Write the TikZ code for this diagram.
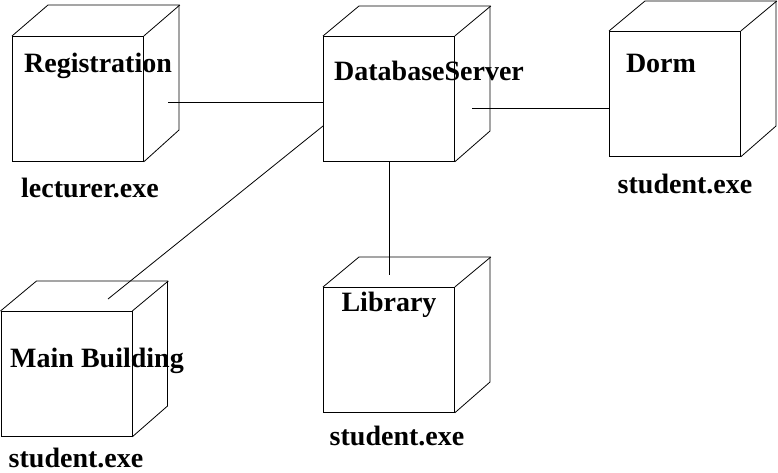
\documentclass[tikz,border=0pt]{standalone}
\usepackage{fontspec}
\setmainfont{Liberation Serif}
\usetikzlibrary{calc}

\tikzset{
  nodebox/.style={draw, rectangle, minimum width=131pt, minimum height=125pt,
    anchor=north west, inner sep=0pt},
  boxname/.style={font=\fontsize{28}{32}\selectfont\bfseries, anchor=base, inner sep=0pt},
}

\begin{document}
\begin{tikzpicture}[x=1pt,y=-1pt,line width=0.8pt]
            \useasboundingbox (0,0) rectangle (778,472);

            % Registration
            \node[nodebox] (reg) at (12,36) {};
            \draw (reg.north west) -- ++(36,-31) -- ++(131,0) -- ++(0,125) -- (reg.south east);
            \draw (reg.north east) -- ++(36,-31);
            \node[boxname] (regname) at (98,72) {Registration};
            \node[boxname] (regexe) at (90,197) {lecturer.exe};

            % DatabaseServer
            \node[nodebox] (db) at (323,36) {};
            \draw (db.north west) -- ++(36,-30) -- ++(131,0) -- ++(0,125) -- (db.south east);
            \draw (db.north east) -- ++(36,-30);
            \node[boxname] (dbname) at (429,80) {DatabaseServer};

            % Dorm
            \node[nodebox] (dorm) at (609,31) {};
            \draw (dorm.north west) -- ++(36,-30) -- ++(131,0) -- ++(0,125) -- (dorm.south east);
            \draw (dorm.north east) -- ++(36,-30);
            \node[boxname] (dormname) at (661,72) {Dorm};
            \node[boxname] (dormexe) at (685,193) {student.exe};

            % Main Building
            \node[nodebox] (main) at (0.5,311) {};
            \draw (main.north west) -- ++(36,-30) -- ++(131,0) -- ++(0,125) -- (main.south east);
            \draw (main.north east) -- ++(36,-30);
            \node[boxname] (mainname) at (97,367) {Main Building};
            \node[boxname] (mainexe) at (76,467) {student.exe};

            % Library
            \node[nodebox] (lib) at (323,287) {};
            \draw (lib.north west) -- ++(36,-30) -- ++(131,0) -- ++(0,125) -- (lib.south east);
            \draw (lib.north east) -- ++(36,-30);
            \node[boxname] (libname) at (389,311) {Library};
            \node[boxname] (libexe) at (397,445) {student.exe};

            % connections
            \coordinate (regend) at (168,102);
            \coordinate (dbleft) at (db.west |- regend);
            \coordinate (dbdiag) at (323,126);
            \coordinate (mainend) at (108,299);
            \coordinate (dbdown) at (389,161);
            \coordinate (libend) at (389,275);
            \coordinate (dbright) at (472,108);
            \coordinate (dormleft) at (dorm.west |- dbright);

            \draw (regend) -- (dbleft);
            \draw (dbdiag) -- (mainend);
            \draw (dbdown) -- (libend);
            \draw (dbright) -- (dormleft);
        \end{tikzpicture}
\end{document}
